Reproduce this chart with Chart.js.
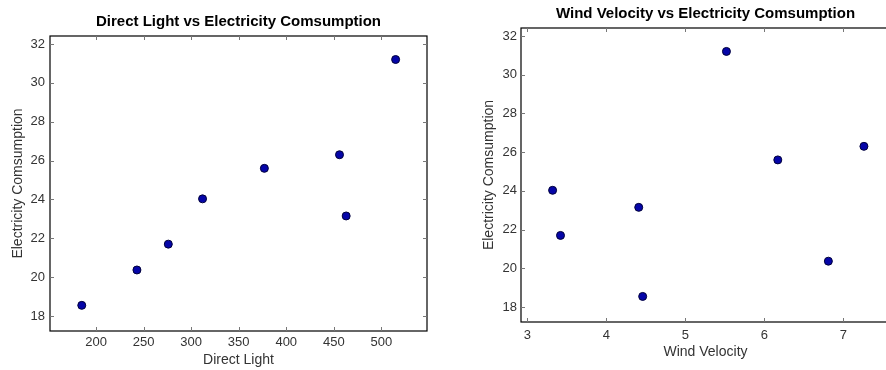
<!DOCTYPE html>
<html>
<head>
<meta charset="utf-8">
<script src="https://cdn.jsdelivr.net/npm/chart.js@4.4.1/dist/chart.umd.min.js"></script>
<style>
  html, body { margin: 0; padding: 0; background: #fff; overflow: hidden; }
  .box { position: absolute; top: 0; }
</style>
</head>
<body>
<div class="box" style="left:0;width:443px;height:370px"><canvas id="lightChart" width="443" height="370"></canvas></div>
<div class="box" style="left:443px;width:460px;height:370px"><canvas id="windChart" width="460" height="370"></canvas></div>
<script>
// values
const electricity = [18.55, 20.37, 21.7, 24.03, 25.6, 26.3, 23.15, 31.2];
const directLight = [185, 243, 276, 312, 377, 456, 463, 515];
const windVelocity = [4.46, 6.81, 3.42, 3.32, 6.17, 7.26, 4.41, 5.52];

const lightTicks = [200, 250, 300, 350, 400, 450, 500];
const windTicks = [3, 4, 5, 6, 7];
const elecTicks = [18, 20, 22, 24, 26, 28, 30, 32];

const tickFont = { family: "'Liberation Sans Narrow', 'Liberation Sans', Arial, sans-serif", size: 13 };
const labelFont = { family: "'Liberation Sans', Arial, sans-serif", size: 14 };

// frame round the plot, inward ticks and a title centred over the plot
const framePlugin = {
    id: 'frame',
    afterDraw(chart, args, opts) {
        const { ctx, chartArea: a, scales } = chart;
        ctx.save();
        ctx.strokeStyle = '#000';
        ctx.lineWidth = 1.2;
        ctx.strokeRect(a.left, a.top, a.right - a.left, a.bottom - a.top);
        ctx.strokeStyle = '#777';
        ctx.lineWidth = 1;
        scales.x.ticks.forEach(t => {
            const px = Math.round(scales.x.getPixelForValue(t.value)) + 0.5;
            ctx.beginPath();
            ctx.moveTo(px, a.bottom); ctx.lineTo(px, a.bottom - 4);
            ctx.moveTo(px, a.top); ctx.lineTo(px, a.top + 4);
            ctx.stroke();
        });
        scales.y.ticks.forEach(t => {
            const py = Math.round(scales.y.getPixelForValue(t.value)) + 0.5;
            ctx.beginPath();
            ctx.moveTo(a.left, py); ctx.lineTo(a.left + 4, py);
            ctx.moveTo(a.right, py); ctx.lineTo(a.right - 4, py);
            ctx.stroke();
        });
        ctx.fillStyle = '#000';
        ctx.font = "bold 15px 'Liberation Sans', Arial, sans-serif";
        ctx.textAlign = 'center';
        ctx.textBaseline = 'middle';
        ctx.fillText(opts.text, (a.left + a.right) / 2, opts.y);
        ctx.restore();
    }
};

function makeChart(id, xs, xTicks, xMin, xMax, cfg) {
    const ctx = document.getElementById(id).getContext('2d');
    return new Chart(ctx, {
        type: 'scatter',
        data: {
            datasets: [{
                data: xs.map((x, i) => ({ x: x, y: electricity[i] })),
                backgroundColor: '#0505a8',
                borderColor: '#00003a',
                borderWidth: 1,
                pointRadius: 4,
                pointHoverRadius: 4
            }]
        },
        options: {
            responsive: false,
            animation: false,
            layout: { padding: { top: cfg.top, right: cfg.right, left: 0, bottom: 0 } },
            plugins: {
                legend: { display: false },
                tooltip: { enabled: false },
                frame: { text: cfg.title, y: cfg.titleY }
            },
            scales: {
                x: {
                    type: 'linear',
                    min: xMin,
                    max: xMax,
                    afterBuildTicks: s => { s.ticks = xTicks.map(v => ({ value: v })); },
                    afterFit: s => { s.height = cfg.xHeight; },
                    grid: { display: false, drawTicks: false },
                    border: { display: false },
                    ticks: { font: tickFont, color: '#333', padding: cfg.xPad, maxRotation: 0 },
                    title: { display: true, text: cfg.xTitle, font: labelFont, color: '#333', padding: { top: 0, bottom: cfg.xTitlePad } }
                },
                y: {
                    type: 'linear',
                    min: 17.23,
                    max: 32.41,
                    afterBuildTicks: s => { s.ticks = elecTicks.map(v => ({ value: v })); },
                    afterFit: s => { s.width = cfg.yWidth; },
                    grid: { display: false, drawTicks: false },
                    border: { display: false },
                    ticks: { font: tickFont, color: '#333', padding: cfg.yPad },
                    title: { display: true, text: 'Electricity Comsumption', font: labelFont, color: '#333', padding: { top: cfg.yTitlePad, bottom: 0 } }
                }
            }
        },
        plugins: [framePlugin]
    });
}

makeChart('lightChart', directLight, lightTicks, 151.6, 548, {
    title: 'Direct Light vs Electricity Comsumption', titleY: 22,
    top: 36, right: 16, xHeight: 39, yWidth: 50,
    xPad: 4, yPad: 5, xTitle: 'Direct Light', xTitlePad: 1, yTitlePad: 10
});

makeChart('windChart', windVelocity, windTicks, 2.92, 7.59, {
    title: 'Wind Velocity vs Electricity Comsumption', titleY: 14,
    top: 28, right: 13, xHeight: 48, yWidth: 78,
    xPad: 6, yPad: 4, xTitle: 'Wind Velocity', xTitlePad: 9, yTitlePad: 38
});
</script>
</body>
</html>
